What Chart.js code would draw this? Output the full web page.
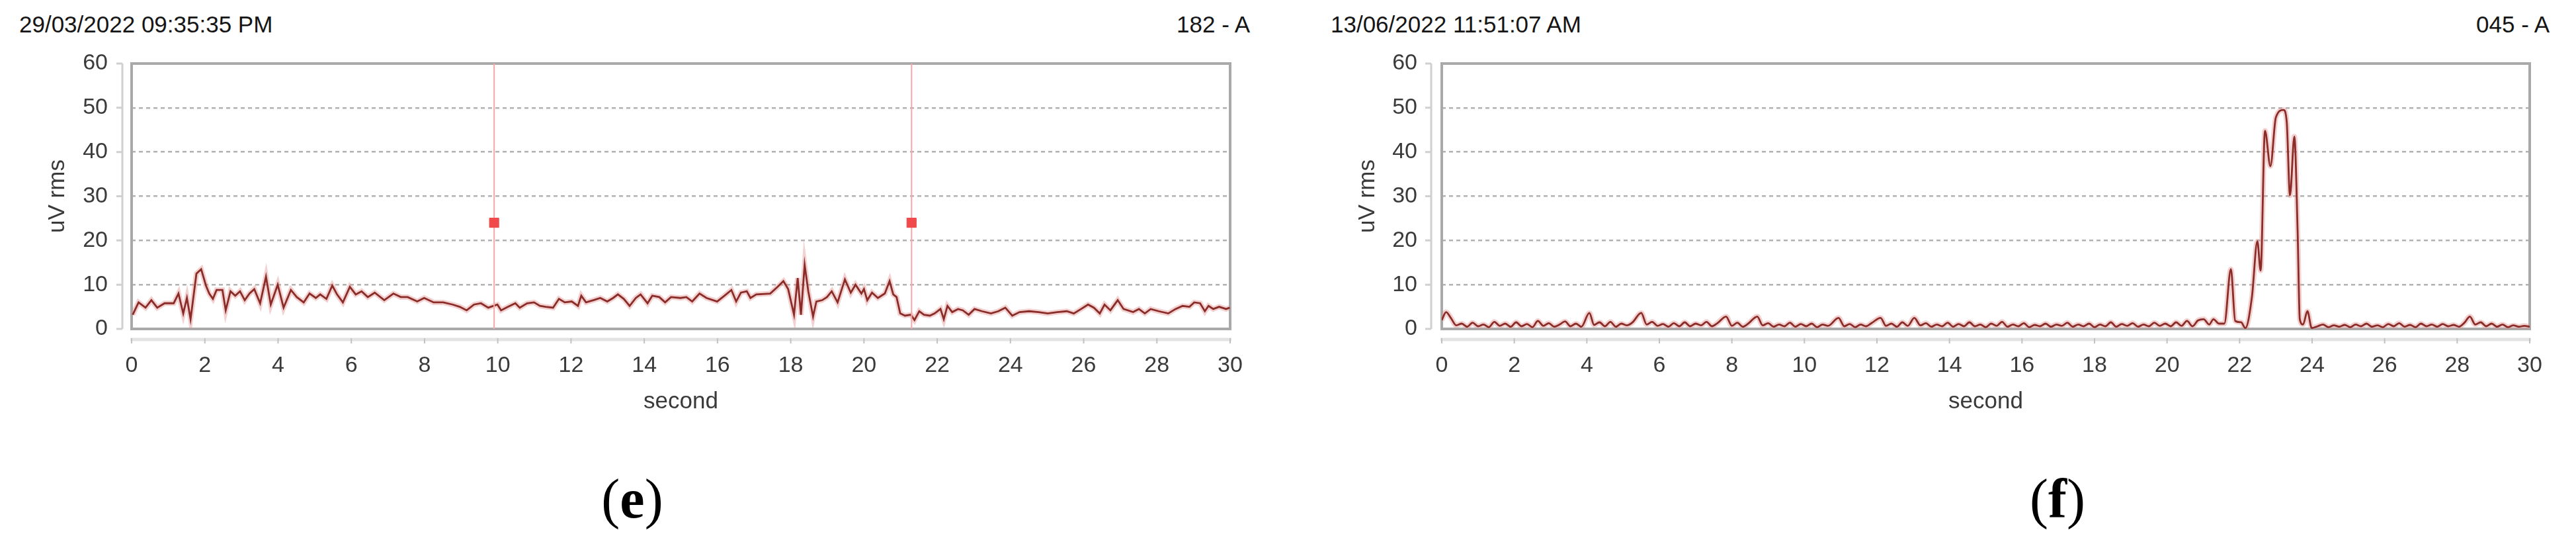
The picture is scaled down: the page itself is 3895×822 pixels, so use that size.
<!DOCTYPE html>
<html>
<head>
<meta charset="utf-8">
<title>uV rms recordings</title>
<script src="https://cdn.jsdelivr.net/npm/chart.js@4.4.1/dist/chart.umd.min.js"></script>
<style>
  html, body { margin: 0; padding: 0; background: #fff; }
  body { position: relative; width: 3895px; height: 822px; overflow: hidden; font-family: "Liberation Sans", Arial, sans-serif; }
  .stamp { position: absolute; top: 16px; font-size: 35px; line-height: 42px; color: #151515; white-space: nowrap; }
  .panel { position: absolute; top: 0; height: 660px; }
  .caption { position: absolute; top: 712px; font-family: "Liberation Serif", "Times New Roman", serif; font-size: 84px; line-height: 84px; color: #000; transform: translateX(-50%); white-space: nowrap; }
</style>
</head>
<body>
<div class="stamp" style="left:29px">29/03/2022 09:35:35 PM</div>
<div class="stamp" style="right:2005px">182 - A</div>
<div class="stamp" style="left:2012px">13/06/2022 11:51:07 AM</div>
<div class="stamp" style="right:40px">045 - A</div>

<div class="panel" style="left:0; width:1948px"><canvas id="chartE"></canvas></div>
<div class="panel" style="left:1948px; width:1947px"><canvas id="chartF"></canvas></div>

<div class="caption" style="left:956px">(<b>e</b>)</div>
<div class="caption" style="left:3111px">(<b>f</b>)</div>

<script>
// axis ranges
const xMin = 0, xMax = 30, xStep = 2;
const yMin = 0, yMax = 60, yStep = 10;
const xTitle = 'second';
const yTitle = 'uV rms';

// panel (e): seconds / uV rms
const timesE = [0.03, 0.19, 0.38, 0.54, 0.70, 0.90, 1.15, 1.28, 1.41, 1.51, 1.61, 1.77, 1.90, 2.03, 2.12, 2.22, 2.32, 2.48, 2.57, 2.70,
  2.83, 2.96, 3.09, 3.22, 3.35, 3.51, 3.67, 3.80, 3.99, 4.15, 4.35, 4.51, 4.70, 4.86, 5.03, 5.15, 5.32, 5.48, 5.61, 5.77,
  5.96, 6.12, 6.28, 6.45, 6.64, 6.90, 7.15, 7.35, 7.54, 7.80, 7.99, 8.25, 8.51, 8.77, 8.96, 9.15, 9.35, 9.54, 9.74, 9.99,
  10.09, 10.28, 10.48, 10.60, 10.80, 10.99, 11.15, 11.31, 11.51, 11.67, 11.83, 12.02, 12.19, 12.28, 12.41, 12.61, 12.80, 12.99, 13.15, 13.28,
  13.44, 13.60, 13.77, 13.90, 14.09, 14.22, 14.41, 14.57, 14.73, 14.99, 15.15, 15.31, 15.51, 15.70, 15.99, 16.19, 16.38, 16.51, 16.64, 16.80,
  16.90, 17.06, 17.44, 17.64, 17.80, 17.93, 18.09, 18.19, 18.28, 18.38, 18.48, 18.61, 18.70, 18.86, 18.99, 19.12, 19.28, 19.48, 19.64, 19.77,
  19.93, 20.00, 20.09, 20.22, 20.38, 20.57, 20.70, 20.80, 20.89, 20.99, 21.12, 21.28, 21.38, 21.51, 21.64, 21.80, 21.93, 22.09, 22.18, 22.28,
  22.41, 22.57, 22.70, 22.86, 23.02, 23.22, 23.47, 23.67, 23.86, 24.05, 24.25, 24.51, 24.77, 25.02, 25.28, 25.54, 25.73, 25.93, 26.12, 26.28,
  26.44, 26.57, 26.73, 26.93, 27.09, 27.35, 27.51, 27.67, 27.83, 28.05, 28.31, 28.51, 28.70, 28.89, 29.02, 29.18, 29.31, 29.41, 29.54, 29.70,
  29.89, 29.99];
const valuesE = [3.2, 6.0, 4.8, 6.5, 4.8, 5.8, 5.8, 8.0, 3.5, 7.0, 2.2, 12.5, 13.5, 9.8, 8.0, 6.8, 8.8, 8.8, 4.2, 8.5,
  7.5, 8.5, 6.5, 8.0, 9.0, 5.8, 11.8, 5.5, 10.0, 4.8, 8.8, 7.2, 6.0, 8.0, 7.0, 7.8, 6.8, 9.8, 7.8, 6.0,
  9.5, 7.8, 8.5, 7.2, 8.2, 6.5, 8.0, 7.2, 7.2, 6.2, 7.0, 6.0, 6.0, 5.5, 5.0, 4.2, 5.5, 5.8, 4.8, 5.5,
  4.2, 5.0, 5.8, 4.8, 5.8, 6.0, 5.2, 5.0, 4.8, 6.8, 6.0, 6.2, 5.2, 7.5, 6.0, 6.5, 7.0, 6.2, 7.0, 7.8,
  6.8, 5.2, 7.0, 7.8, 5.8, 7.5, 7.2, 6.0, 7.2, 7.0, 7.2, 6.2, 8.0, 7.0, 6.2, 7.5, 8.8, 6.2, 8.2, 8.5,
  7.0, 7.8, 8.0, 9.5, 10.8, 9.0, 3.2, 11.5, 3.2, 14.5, 8.5, 2.8, 6.2, 6.5, 7.2, 8.5, 6.0, 11.2, 8.2, 10.0,
  8.0, 9.0, 6.5, 8.2, 7.0, 8.0, 10.8, 7.8, 7.2, 3.5, 3.0, 3.2, 2.0, 4.0, 3.2, 3.0, 3.5, 4.5, 2.2, 5.2,
  3.8, 4.5, 4.2, 3.2, 4.5, 4.0, 3.5, 4.0, 4.8, 3.0, 3.8, 4.0, 3.8, 3.5, 3.8, 4.0, 3.5, 4.5, 5.5, 4.8,
  3.5, 5.5, 4.2, 6.5, 4.5, 3.8, 4.5, 3.5, 4.5, 4.0, 3.5, 4.5, 5.2, 5.0, 6.0, 5.8, 4.0, 5.2, 4.5, 5.0,
  4.5, 4.8];
// event markers in panel (e)
const markerTimesE = [9.9, 21.3];
const markerValuesE = [24, 24];

// panel (f)
const timesF = [0.00, 0.12, 0.25, 0.40, 0.55, 0.70, 0.85, 1.00, 1.15, 1.30, 1.45, 1.60, 1.75, 1.90, 2.05, 2.20, 2.35, 2.50, 2.65, 2.80,
  2.95, 3.10, 3.25, 3.40, 3.55, 3.70, 3.85, 4.07, 4.20, 4.35, 4.50, 4.65, 4.80, 4.95, 5.10, 5.25, 5.50, 5.65, 5.80, 5.95,
  6.10, 6.25, 6.40, 6.55, 6.70, 6.85, 7.00, 7.15, 7.30, 7.45, 7.60, 7.84, 8.00, 8.15, 8.30, 8.45, 8.70, 8.85, 9.00, 9.15,
  9.30, 9.45, 9.60, 9.75, 9.90, 10.05, 10.20, 10.35, 10.50, 10.65, 10.94, 11.10, 11.25, 11.40, 11.55, 11.70, 11.85, 12.10, 12.25, 12.40,
  12.55, 12.70, 12.85, 13.03, 13.20, 13.35, 13.50, 13.65, 13.80, 13.95, 14.10, 14.25, 14.40, 14.55, 14.70, 14.85, 15.00, 15.15, 15.30, 15.45,
  15.60, 15.75, 15.90, 16.05, 16.20, 16.35, 16.50, 16.65, 16.80, 16.95, 17.10, 17.25, 17.40, 17.55, 17.70, 17.85, 18.00, 18.15, 18.30, 18.45,
  18.60, 18.75, 18.90, 19.05, 19.20, 19.35, 19.50, 19.65, 19.80, 19.95, 20.10, 20.25, 20.40, 20.55, 20.70, 20.85, 21.01, 21.16, 21.28, 21.43,
  21.58, 21.76, 21.88, 22.04, 22.16, 22.34, 22.49, 22.58, 22.70, 22.85, 23.00, 23.21, 23.30, 23.39, 23.51, 23.60, 23.66, 23.75, 23.87, 23.99,
  24.15, 24.30, 24.45, 24.60, 24.75, 24.90, 25.05, 25.20, 25.35, 25.50, 25.65, 25.80, 25.95, 26.10, 26.25, 26.40, 26.55, 26.70, 26.85, 27.00,
  27.15, 27.30, 27.45, 27.60, 27.75, 27.90, 28.05, 28.20, 28.35, 28.50, 28.65, 28.80, 28.95, 29.10, 29.25, 29.40, 29.55, 29.70, 29.85, 30.00];
const valuesF = [2.0, 3.8, 2.5, 0.8, 1.2, 0.5, 1.4, 0.6, 1.0, 0.4, 1.6, 0.7, 1.2, 0.5, 1.5, 0.6, 1.1, 0.4, 1.8, 0.7,
  1.3, 0.5, 1.0, 1.7, 0.6, 1.2, 0.5, 3.6, 0.9, 1.5, 0.6, 1.6, 0.5, 1.2, 0.8, 1.4, 3.6, 1.0, 1.6, 0.7,
  1.1, 0.5, 1.3, 0.6, 1.5, 0.6, 1.2, 0.8, 1.6, 0.6, 1.3, 2.8, 0.7, 1.4, 0.5, 1.2, 2.8, 0.8, 1.3, 0.5,
  1.0, 0.6, 1.4, 0.5, 1.1, 0.6, 1.2, 0.4, 1.0, 0.7, 2.5, 0.6, 1.1, 0.4, 1.0, 0.6, 1.3, 2.5, 0.7, 1.2,
  0.5, 1.5, 0.7, 2.5, 0.8, 1.3, 0.5, 1.0, 0.6, 1.4, 0.5, 1.1, 0.6, 1.5, 0.6, 1.0, 0.4, 1.2, 0.7, 1.6,
  0.5, 1.0, 0.6, 1.3, 0.4, 0.9, 0.6, 1.2, 0.5, 1.0, 0.7, 1.4, 0.5, 1.0, 0.6, 1.2, 0.4, 1.0, 0.6, 1.5,
  0.5, 1.1, 0.7, 1.3, 0.5, 1.0, 0.6, 1.4, 0.7, 1.2, 0.6, 1.5, 0.7, 1.8, 0.6, 1.9, 2.2, 1.0, 2.2, 1.2,
  1.2, 13.5, 1.8, 1.5, 0.2, 7.2, 19.8, 13.2, 44.8, 36.8, 47.8, 49.5, 46.8, 30.2, 43.5, 22.2, 2.2, 1.0, 4.0, 0.2,
  0.6, 1.0, 0.4, 0.8, 0.5, 0.9, 0.4, 1.0, 0.6, 1.2, 0.5, 0.8, 0.4, 1.1, 0.6, 1.3, 0.5, 0.9, 0.4, 1.2,
  0.6, 1.0, 0.5, 1.1, 0.6, 0.9, 0.5, 1.4, 2.8, 1.0, 1.5, 0.6, 1.2, 0.5, 1.0, 0.4, 0.8, 0.5, 0.7, 0.5];

Chart.defaults.font.family = '"Liberation Sans", Arial, sans-serif';
Chart.defaults.animation = false;

const traceColor = '#8a2c28';
const glowColor = 'rgba(226, 140, 140, 0.4)';
const labelColor = '#3a3a3a';

function toPoints(times, values) {
  return times.map((t, i) => ({ x: t, y: values[i] }));
}

// frame round the plot, detached value axis and light time-axis band
const framePlugin = {
  id: 'frame',
  beforeDatasetsDraw(chart, args, opts) {
    const { ctx, chartArea: a, scales: { x, y } } = chart;
    const gap = opts.axisGap;
    ctx.save();
    ctx.lineWidth = 3;
    ctx.strokeStyle = '#d0d0d0';
    ctx.beginPath();
    ctx.moveTo(a.left - gap, a.top);
    ctx.lineTo(a.left - gap, a.bottom);
    y.ticks.forEach(t => {
      const py = y.getPixelForValue(t.value);
      ctx.moveTo(a.left - gap - 9, py);
      ctx.lineTo(a.left - gap, py);
    });
    ctx.stroke();

    ctx.lineWidth = 5;
    ctx.strokeStyle = '#e3e3e3';
    ctx.beginPath();
    ctx.moveTo(a.left - 2, a.bottom + 16);
    ctx.lineTo(a.right + 2, a.bottom + 16);
    ctx.stroke();
    ctx.lineWidth = 2;
    ctx.strokeStyle = '#c2c2c2';
    ctx.beginPath();
    x.ticks.forEach(t => {
      const px = x.getPixelForValue(t.value);
      ctx.moveTo(px, a.bottom + 14);
      ctx.lineTo(px, a.bottom + 22);
    });
    ctx.stroke();

    ctx.lineWidth = 4;
    ctx.strokeStyle = '#a9a9a9';
    ctx.strokeRect(a.left, a.top, a.right - a.left, a.bottom - a.top);
    ctx.restore();
  }
};

function makeChart(id, datasets, cfg) {
  const ctx = document.getElementById(id).getContext('2d');
  return new Chart(ctx, {
    type: 'line',
    data: { datasets: datasets },
    options: {
      responsive: true,
      maintainAspectRatio: false,
      devicePixelRatio: 1,
      layout: { padding: { top: 96, right: cfg.padRight, left: 0, bottom: 32 } },
      plugins: {
        legend: { display: false },
        tooltip: { enabled: false },
        frame: { axisGap: cfg.axisGap }
      },
      scales: {
        x: {
          type: 'linear',
          min: xMin,
          max: xMax,
          afterFit: scale => { scale.height = 131; },
          grid: { display: false, drawTicks: false },
          border: { display: false },
          ticks: { stepSize: xStep, padding: 35, color: labelColor, font: { size: 34 } },
          title: { display: true, text: xTitle, color: labelColor, font: { size: 35 }, padding: { top: 0, bottom: 0 } }
        },
        y: {
          min: yMin,
          max: yMax,
          afterFit: scale => { scale.width = cfg.axisWidth; },
          grid: { color: '#b2b2b2', lineWidth: 2.5, drawTicks: false },
          border: { display: false, dash: [6, 5] },
          ticks: { stepSize: yStep, padding: cfg.tickPad, color: labelColor, font: { size: 34 } },
          title: { display: true, text: yTitle, color: labelColor, font: { size: 35 }, padding: { top: cfg.titlePad, bottom: 0 } }
        }
      }
    },
    plugins: [framePlugin]
  });
}

function traceSets(times, values, tension) {
  const pts = toPoints(times, values);
  const mode = tension ? 'monotone' : 'default';
  return [
    { data: pts, borderColor: traceColor, borderWidth: 2.8, pointRadius: 0, tension: tension, cubicInterpolationMode: mode },
    { data: pts, borderColor: glowColor, borderWidth: 8, pointRadius: 0, tension: tension, cubicInterpolationMode: mode }
  ];
}

// panel (e) with its two event markers
const markerSets = [{
  data: toPoints(markerTimesE, markerValuesE),
  showLine: false,
  pointStyle: 'rect',
  pointRadius: 10,
  pointBackgroundColor: '#f04a4a',
  pointBorderColor: '#f04a4a'
}];
markerTimesE.forEach(t => {
  markerSets.push({
    data: [{ x: t, y: yMin }, { x: t, y: yMax }],
    borderColor: '#f6a8a8',
    borderWidth: 2,
    pointRadius: 0
  });
});

makeChart('chartE', markerSets.concat(traceSets(timesE, valuesE, 0)),
  { axisWidth: 199, padRight: 88, tickPad: 36, titlePad: 66, axisGap: 14 });

makeChart('chartF', traceSets(timesF, valuesF, 0.4),
  { axisWidth: 232, padRight: 70, tickPad: 37, titlePad: 99, axisGap: 16 });
</script>
</body>
</html>
